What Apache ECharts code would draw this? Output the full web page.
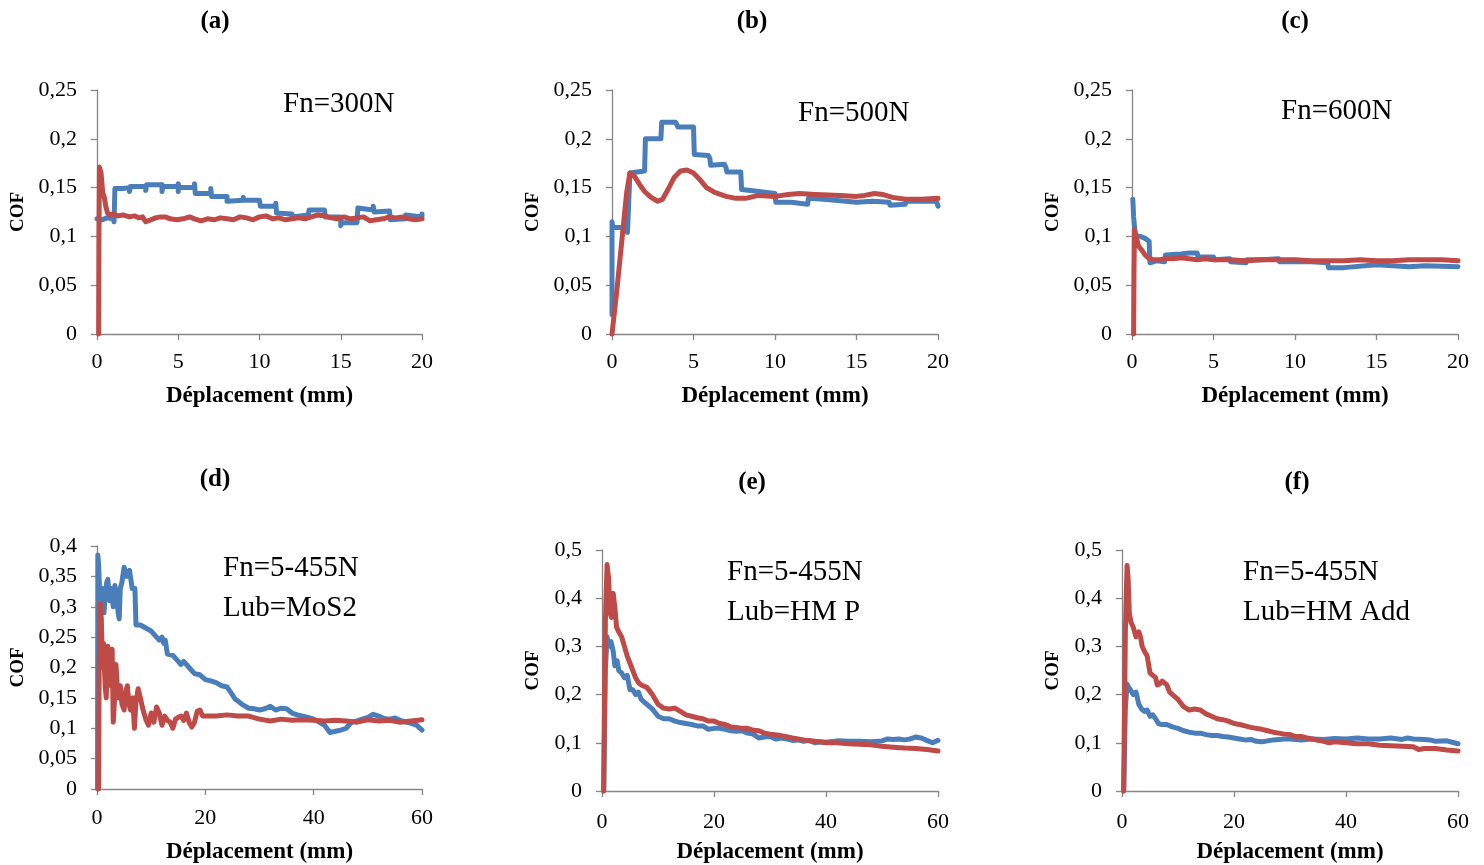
<!DOCTYPE html>
<html><head><meta charset="utf-8">
<script src="https://cdn.jsdelivr.net/npm/echarts@6/dist/echarts.min.js"></script>
<style>html,body{margin:0;padding:0;background:#fff}#c{width:1484px;height:865px}</style>
</head><body><div id="c"></div>
<script>
// ---------- DATA ----------
const panelLabels = ['(a)', '(b)', '(c)', '(d)', '(e)', '(f)'];
const annotations = [['Fn=300N'], ['Fn=500N'], ['Fn=600N'], ['Fn=5-455N', 'Lub=MoS2'], ['Fn=5-455N', 'Lub=HM P'], ['Fn=5-455N', 'Lub=HM Add']];
const xAxisName = 'Déplacement (mm)';
const yAxisName = 'COF';
const xMaxTop = 20, xStepTop = 5, xMaxBottom = 60, xStepBottom = 20;
const yMaxTop = 0.25, yStepTop = 0.05;
const yMaxD = 0.4, yStepD = 0.05;
const yMaxEF = 0.5, yStepEF = 0.1;

const aBlue = [[0,0.118],[0.3,0.117],[0.6,0.119],[1.0,0.118],[1.05,0.115],[1.1,0.149],[1.6,0.149],[2,0.150],[2,0.146],[2.05,0.151],[3,0.151],[3,0.147],[3.05,0.153],[4,0.153],[4,0.146],[4.05,0.151],[5,0.151],[5,0.146],[5,0.154],[5.05,0.150],[6,0.150],[6,0.154],[6.05,0.144],[7,0.144],[7,0.149],[7.05,0.141],[8,0.141],[8,0.136],[8.05,0.137],[9,0.137],[9,0.140],[9.05,0.137],[10,0.137],[10.05,0.131],[11,0.131],[11,0.134],[11.05,0.124],[12,0.123],[12,0.120],[12.05,0.122],[13,0.122],[13.05,0.127],[14,0.127],[14,0.129],[14.05,0.120],[15,0.120],[15,0.111],[15.05,0.114],[16,0.114],[16.05,0.129],[17,0.127],[17,0.131],[17.05,0.125],[18,0.126],[18,0.128],[18.05,0.117],[19,0.118],[19,0.122],[19.05,0.120],[20,0.120],[20,0.123]];
const aRed = [[0.1,0],[0.12,0.1],[0.15,0.171],[0.25,0.165],[0.35,0.145],[0.45,0.14],[0.55,0.13],[0.65,0.124],[0.8,0.122],[1,0.123],[1.3,0.121],[1.6,0.122],[2,0.12],[2.3,0.121],[2.6,0.119],[2.8,0.12],[3,0.115],[3.3,0.117],[3.6,0.119],[3.9,0.12],[4.2,0.12],[4.5,0.118],[4.9,0.117],[5.3,0.118],[5.7,0.12],[6,0.118],[6.4,0.116],[6.8,0.118],[7.2,0.117],[7.6,0.119],[8,0.118],[8.4,0.117],[8.8,0.12],[9.2,0.119],[9.6,0.117],[10,0.12],[10.4,0.121],[10.8,0.118],[11.2,0.119],[11.6,0.117],[12,0.118],[12.4,0.119],[12.8,0.118],[13.2,0.12],[13.6,0.122],[14,0.121],[14.4,0.119],[14.8,0.118],[15.2,0.12],[15.6,0.118],[16,0.119],[16.4,0.12],[16.8,0.116],[17.2,0.117],[17.6,0.118],[18,0.12],[18.4,0.119],[18.8,0.12],[19.2,0.118],[19.6,0.117],[20,0.118]];

const bBlue = [[0,0.02],[0,0.115],[0.05,0.109],[0.5,0.109],[0.9,0.109],[0.95,0.104],[1.05,0.106],[1.1,0.165],[2,0.167],[2.05,0.2],[3,0.2],[3.05,0.217],[3.9,0.217],[4,0.215],[4.05,0.212],[5,0.212],[5.05,0.184],[5.9,0.183],[6,0.18],[6.05,0.173],[6.9,0.174],[7,0.17],[7.05,0.166],[7.9,0.166],[7.95,0.148],[8.5,0.147],[9,0.146],[9.05,0.145],[10,0.144],[10.05,0.135],[11,0.135],[11.05,0.133],[12,0.133],[12.05,0.139],[13,0.138],[13.05,0.136],[15,0.135],[15.05,0.137],[16,0.136],[16.05,0.134],[17,0.135],[17.05,0.132],[18,0.133],[18.05,0.136],[19.9,0.136],[20,0.131]];
const bRed = [[0,0],[0.3,0.045],[0.6,0.095],[0.9,0.145],[1.1,0.165],[1.4,0.161],[1.7,0.153],[2,0.146],[2.4,0.14],[2.8,0.136],[3.1,0.138],[3.4,0.147],[3.8,0.16],[4.2,0.167],[4.6,0.168],[5,0.165],[5.4,0.158],[5.8,0.15],[6.3,0.145],[7,0.141],[7.6,0.139],[8.2,0.139],[9,0.142],[10,0.141],[10.8,0.143],[11.5,0.144],[12.5,0.143],[14,0.142],[15,0.141],[15.5,0.142],[16.1,0.144],[16.6,0.143],[17.2,0.14],[18,0.138],[19,0.138],[20,0.139]];

const cBlue = [[0.05,0.138],[0.1,0.12],[0.2,0.101],[0.5,0.1],[0.8,0.098],[1.05,0.095],[1.1,0.073],[1.5,0.075],[2,0.074],[2.05,0.081],[3,0.082],[3.5,0.083],[4,0.083],[4.05,0.079],[5,0.079],[5.05,0.076],[6,0.077],[6.05,0.074],[7,0.073],[7.05,0.076],[8,0.076],[9,0.077],[9.05,0.074],[10.2,0.074],[10.3,0.075],[11,0.074],[12,0.073],[12.05,0.068],[13,0.068],[13.05,0.07],[15,0.071],[16,0.07],[16.05,0.069],[17,0.069],[18,0.07],[18.05,0.069],[20,0.069]];
const cRed = [[0.1,0],[0.12,0.06],[0.15,0.107],[0.25,0.1],[0.4,0.09],[0.6,0.086],[0.8,0.081],[1.0,0.078],[1.3,0.076],[1.7,0.076],[2,0.077],[2.5,0.077],[3,0.078],[3.5,0.077],[4,0.076],[4.5,0.077],[5,0.076],[6,0.076],[7,0.075],[8,0.076],[9,0.076],[10,0.076],[11,0.075],[12,0.075],[13,0.075],[14,0.076],[15,0.075],[16,0.075],[17,0.076],[18,0.076],[19,0.076],[20,0.075]];

const dBlue = [[0.1,0],[0.15,0.385],[0.3,0.37],[0.5,0.32],[0.8,0.31],[1.0,0.33],[1.3,0.29],[1.5,0.32],[1.8,0.34],[2.0,0.345],[2.3,0.31],[2.6,0.33],[3.0,0.3],[3.3,0.335],[3.6,0.32],[3.9,0.29],[4.1,0.28],[4.3,0.33],[4.6,0.34],[5.0,0.365],[5.5,0.35],[6.0,0.36],[6.5,0.33],[7.0,0.33],[7.2,0.27],[8,0.27],[9,0.265],[10,0.26],[10.5,0.255],[11,0.25],[11.5,0.245],[12,0.25],[12.3,0.24],[12.6,0.245],[13,0.222],[14,0.22],[15,0.21],[15.5,0.205],[16,0.21],[17,0.2],[18,0.19],[19,0.188],[20,0.18],[21,0.178],[22,0.175],[23,0.17],[24,0.168],[25,0.155],[25.5,0.148],[26,0.145],[27,0.138],[28,0.133],[29,0.132],[30,0.13],[31,0.132],[32,0.136],[33,0.13],[34,0.133],[35,0.132],[36,0.125],[37,0.122],[38,0.12],[39,0.118],[40,0.115],[41,0.11],[42,0.105],[43,0.093],[44,0.095],[45,0.097],[46,0.1],[47,0.11],[48,0.112],[49,0.115],[50,0.118],[51,0.123],[52,0.12],[53,0.116],[54,0.115],[55,0.117],[56,0.113],[57,0.11],[58,0.108],[59,0.105],[60,0.097]];
const dRed = [[0.3,0],[0.4,0.2],[0.6,0.305],[0.8,0.28],[1.0,0.2],[1.2,0.24],[1.5,0.17],[1.7,0.15],[2.0,0.235],[2.3,0.21],[2.6,0.17],[2.8,0.23],[3.0,0.11],[3.2,0.14],[3.5,0.205],[3.8,0.16],[4.0,0.15],[4.3,0.17],[4.6,0.14],[5.0,0.13],[5.3,0.16],[5.6,0.17],[5.9,0.14],[6.2,0.13],[6.6,0.15],[6.9,0.1],[7.2,0.145],[7.6,0.165],[8.0,0.15],[8.5,0.13],[9,0.115],[9.5,0.105],[10,0.125],[10.5,0.11],[11,0.135],[11.5,0.125],[12,0.105],[12.5,0.12],[13,0.113],[13.5,0.11],[14,0.1],[14.5,0.115],[15,0.118],[15.5,0.12],[16,0.113],[16.5,0.125],[17,0.11],[17.5,0.102],[18,0.11],[18.5,0.128],[19,0.13],[19.5,0.12],[20,0.12],[22,0.12],[24,0.122],[26,0.12],[28,0.12],[30,0.115],[32,0.112],[34,0.115],[36,0.113],[38,0.114],[40,0.113],[42,0.112],[44,0.113],[46,0.112],[48,0.11],[50,0.114],[52,0.112],[54,0.113],[56,0.11],[58,0.112],[60,0.114]];

const eBlue = [[0.3,0],[0.6,0.25],[0.9,0.32],[1.2,0.3],[1.6,0.31],[2.0,0.29],[2.3,0.26],[2.7,0.27],[3.0,0.25],[3.5,0.245],[4.0,0.235],[4.5,0.24],[5,0.21],[5.5,0.21],[6,0.2],[6.5,0.205],[7,0.19],[7.5,0.185],[8,0.18],[9,0.17],[10,0.155],[11,0.15],[12,0.15],[13,0.145],[14,0.142],[15,0.14],[16,0.138],[17,0.135],[18,0.135],[19,0.128],[20,0.13],[21,0.13],[22,0.128],[23,0.125],[24,0.124],[25,0.125],[26,0.12],[27,0.118],[28,0.11],[29,0.112],[30,0.113],[31,0.108],[32,0.11],[33,0.108],[34,0.105],[35,0.106],[36,0.103],[37,0.105],[38,0.1],[39,0.102],[40,0.101],[42,0.104],[44,0.103],[46,0.103],[48,0.102],[50,0.104],[51,0.108],[52,0.107],[53,0.108],[54,0.106],[55,0.108],[56,0.112],[57,0.11],[58,0.105],[59,0.1],[60,0.105]];
const eRed = [[0.3,0],[0.6,0.35],[0.9,0.47],[1.2,0.44],[1.4,0.37],[1.7,0.36],[2.0,0.41],[2.3,0.38],[2.6,0.34],[3.0,0.33],[3.5,0.32],[4.0,0.3],[4.5,0.28],[5.0,0.265],[5.5,0.25],[6.0,0.235],[6.5,0.225],[7,0.22],[8,0.215],[9,0.2],[10,0.18],[11,0.172],[12,0.17],[13,0.172],[14,0.165],[15,0.158],[16,0.155],[17,0.152],[18,0.15],[19,0.145],[20,0.145],[21,0.14],[22,0.138],[23,0.133],[24,0.132],[25,0.13],[26,0.13],[27,0.126],[28,0.125],[29,0.12],[30,0.118],[32,0.115],[34,0.11],[36,0.106],[38,0.103],[40,0.1],[42,0.1],[44,0.098],[46,0.097],[48,0.096],[50,0.093],[52,0.091],[54,0.089],[56,0.088],[58,0.086],[60,0.083]];

const fBlue = [[0.3,0],[0.6,0.17],[0.9,0.222],[1.2,0.215],[1.5,0.21],[2,0.2],[2.5,0.205],[3,0.18],[3.5,0.17],[4,0.165],[4.5,0.168],[5,0.155],[5.5,0.158],[6,0.15],[6.5,0.14],[7,0.138],[8,0.138],[9,0.133],[10,0.13],[11,0.125],[12,0.122],[13,0.12],[14,0.12],[15,0.117],[16,0.115],[17,0.115],[18,0.113],[19,0.112],[20,0.11],[21,0.108],[22,0.106],[23,0.107],[24,0.103],[25,0.102],[26,0.104],[27,0.106],[28,0.107],[29,0.108],[30,0.108],[32,0.106],[34,0.108],[36,0.107],[38,0.109],[40,0.108],[42,0.11],[44,0.108],[46,0.108],[48,0.11],[50,0.107],[51,0.11],[52,0.108],[54,0.107],[55,0.106],[56,0.103],[58,0.104],[60,0.098]];
const fRed = [[0.3,0],[0.6,0.33],[0.9,0.468],[1.1,0.44],[1.3,0.37],[1.6,0.35],[2.0,0.34],[2.5,0.32],[3,0.33],[3.3,0.32],[3.6,0.3],[4,0.29],[4.5,0.28],[5,0.245],[5.5,0.24],[6,0.235],[6.3,0.22],[6.7,0.222],[7.2,0.228],[8,0.22],[8.5,0.205],[9,0.2],[10,0.19],[11,0.175],[12,0.168],[13,0.17],[14,0.168],[15,0.16],[16,0.155],[17,0.15],[18,0.148],[19,0.145],[20,0.14],[21,0.138],[22,0.135],[23,0.132],[24,0.13],[25,0.128],[26,0.125],[27,0.122],[28,0.12],[29,0.118],[30,0.117],[31,0.113],[32,0.113],[33,0.11],[34,0.108],[35,0.105],[36,0.103],[37,0.1],[38,0.102],[40,0.1],[42,0.098],[44,0.098],[46,0.095],[48,0.094],[50,0.093],[52,0.092],[53,0.086],[54,0.088],[56,0.088],[58,0.085],[60,0.083]];

// ---------- LAYOUT / STYLE ----------
const BLUE = '#4a7ebb', RED = '#be4b48', AXIS = '#868686';
const SERIF = '"Liberation Serif", "Times New Roman", serif';
const panels = [
  {grid:{left:97, top:90, width:325, height:244}, xMax:xMaxTop, xStep:xStepTop, yMax:yMaxTop, yStep:yStepTop, blue:aBlue, red:aRed, yGap:69, xGap:51, xMargin:17, label:[215,22], ann:[283,104]},
  {grid:{left:612, top:90, width:326, height:244}, xMax:xMaxTop, xStep:xStepTop, yMax:yMaxTop, yStep:yStepTop, blue:bBlue, red:bRed, yGap:69, xGap:51, xMargin:17, label:[752,22], ann:[798,113]},
  {grid:{left:1132, top:90, width:326, height:244}, xMax:xMaxTop, xStep:xStepTop, yMax:yMaxTop, yStep:yStepTop, blue:cBlue, red:cRed, yGap:69, xGap:51, xMargin:17, label:[1295,22], ann:[1281,111]},
  {grid:{left:97, top:546, width:325, height:244}, xMax:xMaxBottom, xStep:xStepBottom, yMax:yMaxD, yStep:yStepD, blue:dBlue, red:dRed, yGap:69, xGap:52, xMargin:18, label:[215,480], ann:[223,568]},
  {grid:{left:602, top:550, width:336, height:244}, xMax:xMaxBottom, xStep:xStepBottom, yMax:yMaxEF, yStep:yStepEF, blue:eBlue, red:eRed, yGap:59, xGap:50, xMargin:20, label:[752,483], ann:[727,572]},
  {grid:{left:1122, top:550, width:336, height:244}, xMax:xMaxBottom, xStep:xStepBottom, yMax:yMaxEF, yStep:yStepEF, blue:fBlue, red:fRed, yGap:59, xGap:50, xMargin:20, label:[1297,483], ann:[1243,572]}
];

const fmt = v => String(Math.round(v * 100) / 100).replace('.', ',');
const grids = [], xAxes = [], yAxes = [], series = [], graphics = [];
panels.forEach((p, i) => {
  grids.push(Object.assign({containLabel:false}, p.grid));
  xAxes.push({
    type:'value', gridIndex:i, min:0, max:p.xMax, interval:p.xStep,
    name:xAxisName, nameLocation:'middle', nameGap:p.xGap,
    nameTextStyle:{fontFamily:SERIF, fontWeight:'bold', fontSize:23, color:'#000'},
    axisLine:{show:true, onZero:false, lineStyle:{color:AXIS, width:1.3}},
    axisTick:{show:true, inside:false, length:6, lineStyle:{color:AXIS, width:1.3}},
    axisLabel:{fontFamily:SERIF, fontSize:22, color:'#000', margin:p.xMargin, formatter:fmt},
    splitLine:{show:false}
  });
  yAxes.push({
    type:'value', gridIndex:i, min:0, max:p.yMax, interval:p.yStep,
    name:yAxisName, nameLocation:'middle', nameGap:p.yGap,
    nameTextStyle:{fontFamily:SERIF, fontWeight:'bold', fontSize:19, color:'#000'},
    axisLine:{show:true, lineStyle:{color:AXIS, width:1.3}},
    axisTick:{show:true, inside:false, length:6, lineStyle:{color:AXIS, width:1.3}},
    axisLabel:{fontFamily:SERIF, fontSize:22, color:'#000', margin:20, formatter:fmt},
    splitLine:{show:false}
  });
  [[p.blue, BLUE], [p.red, RED]].forEach(([d, c]) => {
    series.push({
      type:'line', xAxisIndex:i, yAxisIndex:i, data:d, showSymbol:false, symbol:'none',
      clip:false, smooth:false,
      lineStyle:{color:c, width:5, cap:'round', join:'round'}
    });
  });
  graphics.push({type:'text', style:{text:panelLabels[i], x:p.label[0], y:p.label[1], align:'center', verticalAlign:'middle', font:'bold 25px ' + SERIF, fill:'#000'}});
  annotations[i].forEach((t, k) => {
    graphics.push({type:'text', style:{text:t, x:p.ann[0], y:p.ann[1] + k * 40, align:'left', verticalAlign:'middle', font:'29px ' + SERIF, fill:'#000'}});
  });
});

const chart = echarts.init(document.getElementById('c'), null, {renderer:'canvas'});
chart.setOption({
  animation:false,
  backgroundColor:'#fff',
  grid:grids, xAxis:xAxes, yAxis:yAxes, series:series, graphic:graphics
});
</script>
</body></html>
